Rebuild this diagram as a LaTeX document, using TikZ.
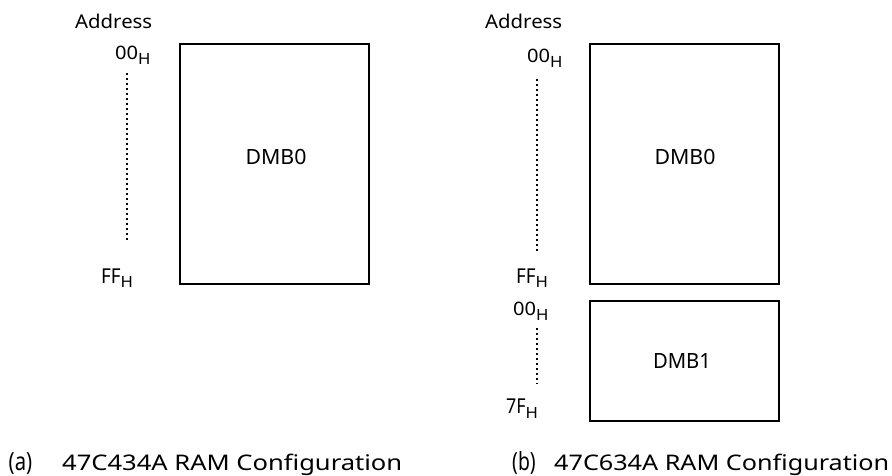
\documentclass[tikz,border=0pt]{standalone}
\usepackage{fontspec}
\setmainfont{Noto Sans}
\newcommand{\fitw}[2]{\resizebox{#1}{\height}{#2}}
\newcommand{\hx}[3]{\fitw{#2}{#1}\raisebox{-5pt}{\fitw{#3}{\fontsize{15.5}{17}\selectfont H}}}
\begin{document}
\begin{tikzpicture}[x=1pt,y=-1pt,
  lbl/.style={inner sep=0pt,font=\fontsize{19}{22}\selectfont},
  hexl/.style={inner sep=0pt,anchor=base west,font=\fontsize{18.5}{20}\selectfont},
  hexf/.style={inner sep=0pt,anchor=base west,font=\fontsize{20.5}{22}\selectfont},
  boxl/.style={inner sep=0pt,anchor=base,font=\fontsize{21}{25}\selectfont},
  captext/.style={inner sep=0pt,anchor=base west,font=\fontsize{21.5}{26}\selectfont},
  membox/.style={draw,line width=1.6pt,minimum width=189pt,inner sep=0pt},
  dotline/.style={line width=1.8pt,dash pattern=on 1.8pt off 3.2pt}]
\useasboundingbox (0,0) rectangle (892,476);
% (a)
\node[lbl,anchor=base west] (adra) at (75,28.5) {\fitw{77pt}{Address}};
\node[hexl] (a00) at (115,60) {\hx{00}{23pt}{12.4pt}};
\node[hexf] (aff) at (101,283) {\hx{FF}{19.5pt}{12.4pt}};
\coordinate (ad1) at (127,73);
\coordinate (ad2) at (127,242);
\draw[dotline] (ad1) -- (ad2);
\node[membox,minimum height=240pt] (boxa) at (274.5,164) {};
\node[boxl] (dmba) at (276,165) {\fitw{61pt}{DMB0}};
% (b)
\node[lbl,anchor=base west] (adrb) at (485,28.5) {\fitw{77pt}{Address}};
\node[hexl] (b00) at (527,63) {\hx{00}{23pt}{12.4pt}};
\node[hexf] (bff) at (516,283) {\hx{FF}{19.5pt}{12.4pt}};
\node[hexl] (b00b) at (513,315) {\hx{00}{23pt}{12.4pt}};
\node[hexf] (b7f) at (506,413) {\hx{7F}{19.5pt}{12.4pt}};
\coordinate (bd1) at (537,79);
\coordinate (bd2) at (537,251);
\draw[dotline] (bd1) -- (bd2);
\coordinate (bd3) at (537,328);
\coordinate (bd4) at (537,384);
\draw[dotline] (bd3) -- (bd4);
\node[membox,minimum height=240pt] (boxb0) at (684.5,164) {};
\node[boxl] (dmbb0) at (685,165) {\fitw{61pt}{DMB0}};
\node[membox,minimum height=120pt] (boxb1) at (684.5,361) {};
\node[boxl] (dmbb1) at (682,368) {\fitw{58pt}{DMB1}};
% captions
\node[captext] (capa1) at (8.5,470) {\fitw{23.5pt}{\fontsize{25}{28}\selectfont(a)}};
\node[captext] (capa2) at (62,470) {\fitw{340pt}{47C434A RAM Configuration}};
\node[captext] (capb1) at (512,470) {\fitw{23.5pt}{\fontsize{25}{28}\selectfont(b)}};
\node[captext] (capb2) at (554,470) {\fitw{335pt}{47C634A RAM Configuration}};
\end{tikzpicture}
\end{document}
